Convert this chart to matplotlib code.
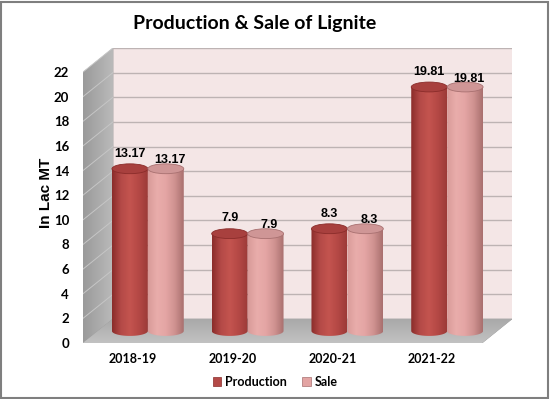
import numpy as np
import matplotlib
matplotlib.use("Agg")
import matplotlib.pyplot as plt
from matplotlib.colors import LinearSegmentedColormap
from matplotlib.patches import Polygon, Ellipse, Patch, Rectangle

# data
years      = ["2018-19", "2019-20", "2020-21", "2021-22"]
production = [13.17, 7.9, 8.3, 19.81]
sale       = [13.17, 7.9, 8.3, 19.81]
yticks     = list(range(0, 23, 2))

# fake 3d geometry (data units)
DX, DY = 0.30, 1.95        # depth offset of the back wall
BW = 0.36                  # cylinder width
EH = 0.80                  # ellipse height
YMAX = 22

prod_cmap = LinearSegmentedColormap.from_list(
    "prod", ["#8a2c2a", "#b44a47", "#c4544f", "#b44845", "#9c3a38"])
sale_cmap = LinearSegmentedColormap.from_list(
    "sale", ["#d89a98", "#e9adab", "#e4a5a4", "#cf9290", "#a96f6e"])

fig = plt.figure(figsize=(5.5, 3.99), dpi=100)
# axes box = front plane + depth offset
ax = fig.add_axes([83 / 550, 56 / 399, 429 / 550, 295 / 399])
ax.set_facecolor("none")

# walls
ax.add_patch(Polygon([(DX, DY), (4 + DX, DY), (4 + DX, YMAX + DY), (DX, YMAX + DY)],
                     closed=True, fc="#f4e6e6", ec="#c8c0c0", lw=0.6, zorder=0))
wall = Polygon([(0, 0), (DX, DY), (DX, YMAX + DY), (0, YMAX)], closed=True,
               fc="#a9a9a9", ec="none", zorder=1)
ax.add_patch(wall)
grad = np.linspace(0, 1, 64).reshape(1, -1)
im = ax.imshow(grad, cmap=LinearSegmentedColormap.from_list("w", ["#9a9a9a", "#bababa"]),
               extent=[0, DX, 0, YMAX + DY], aspect="auto", zorder=1)
im.set_clip_path(wall)
floor = Polygon([(0, 0), (4, 0), (4 + DX, DY), (DX, DY)], closed=True,
                fc="#b3b3b3", ec="#a0a0a0", lw=0.5, zorder=1)
ax.add_patch(floor)
fim = ax.imshow(np.linspace(0, 1, 64).reshape(-1, 1),
                cmap=LinearSegmentedColormap.from_list("f", ["#a8a8a8", "#c2c2c2"]),
                extent=[0, 4 + DX, 0, DY], aspect="auto", zorder=1)
fim.set_clip_path(floor)
for v in yticks[1:]:
    ax.plot([DX, 4 + DX], [v + DY, v + DY], color="#bdb3b3", lw=1.0, zorder=0.5)
    ax.plot([0, DX], [v, v + DY], color="#c6c6c6", lw=0.7, zorder=1.5)


def cylinder(xc, val, cmap, top_fc, top_ec):
    y0 = DY / 2
    y1 = val + DY / 2
    t = np.linspace(np.pi, 2 * np.pi, 40)
    bottom = [(xc + BW / 2 * np.cos(a), y0 + EH / 2 * np.sin(a)) for a in t]
    pts = bottom + [(xc + BW / 2, y1), (xc - BW / 2, y1)]
    body = Polygon(pts, closed=True, fc="none", ec="none", zorder=3)
    ax.add_patch(body)
    img = ax.imshow(np.linspace(0, 1, 128).reshape(1, -1), cmap=cmap,
                    extent=[xc - BW / 2, xc + BW / 2, y0 - EH, y1],
                    aspect="auto", zorder=3)
    img.set_clip_path(body)
    ax.add_patch(Ellipse((xc, y1), BW, EH, fc=top_fc, ec=top_ec, lw=0.6, zorder=4))


for i, (p, s) in enumerate(zip(production, sale)):
    xp = i + 0.5 - BW / 2 + DX / 2
    xs = i + 0.5 + BW / 2 + DX / 2
    cylinder(xp, p, prod_cmap, "#a8403e", "#8a2c2a")
    cylinder(xs, s, sale_cmap, "#cf9696", "#a87070")
    lab = dict(ha="center", va="bottom", fontsize=9, fontweight="bold",
               family="Liberation Sans", zorder=6)
    ax.text(xp, p + DY / 2 + 0.75, f"{p:g}", **lab)
    ax.text(xs + 0.04, s + DY / 2 + 0.2, f"{s:g}", **lab)

ax.set_xlim(0, 4 + DX)
ax.set_ylim(0, YMAX + DY)
ax.set_xticks([i + 0.5 for i in range(4)])
ax.set_xticklabels(years, fontsize=9, fontweight="bold", family="Lato")
ax.set_yticks(yticks)
ax.set_yticklabels([str(v) for v in yticks], fontsize=9.5, fontweight="bold", family="Lato")
ax.tick_params(axis="both", length=0)
ax.tick_params(axis="y", pad=10)
ax.tick_params(axis="x", pad=7)
for sp in ax.spines.values():
    sp.set_visible(False)
ax.set_ylabel("In Lac MT", fontsize=11, fontweight="bold", family="Liberation Sans")
ax.yaxis.set_label_coords(-30 / 429, 150 / 295)

fig.text(255 / 550, 1 - 23 / 399, "Production & Sale of Lignite", ha="center",
         va="center", fontsize=14, fontweight="bold", family="Lato")

handles = [Patch(fc="#b44a47", ec="#8a2c2a", lw=0.5, label="Production"),
           Patch(fc="#e3a4a3", ec="#a87070", lw=0.5, label="Sale")]
fig.legend(handles=handles, loc="center", bbox_to_anchor=(275 / 550, 1 - 382 / 399),
           ncol=2, frameon=False, prop={"family": "Lato", "weight": "bold", "size": 9},
           handlelength=0.7, handleheight=0.7, handletextpad=0.3, columnspacing=1.2)

fig.add_artist(Rectangle((0.002, 0.003), 0.995, 0.993, transform=fig.transFigure,
                         fill=False, ec="#7f7f7f", lw=1.5))

fig.savefig("out.png", dpi=100)
